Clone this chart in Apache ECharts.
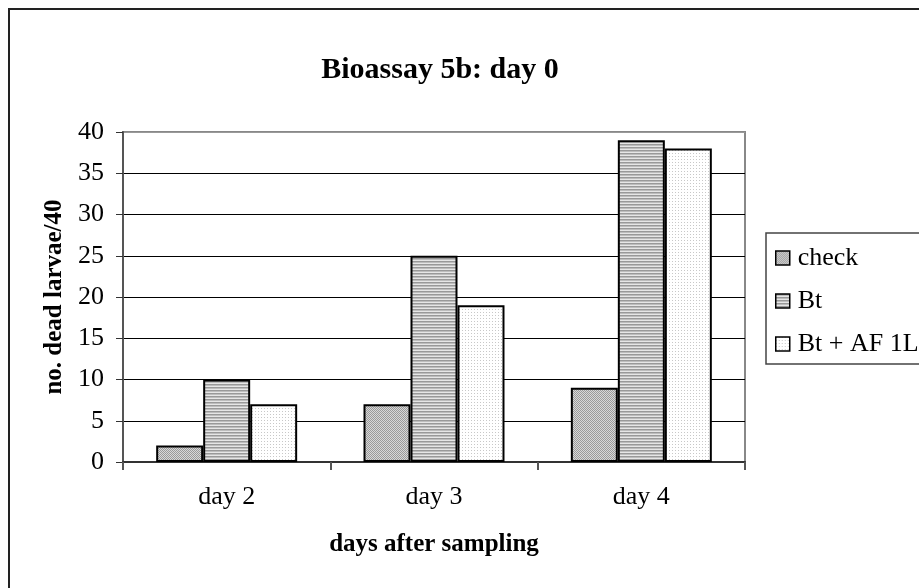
<!DOCTYPE html>
<html>
<head>
<meta charset="utf-8">
<script src="https://cdn.jsdelivr.net/npm/echarts@6/dist/echarts.min.js"></script>
<style>
  html, body { margin: 0; padding: 0; background: #fff; }
  #chart { width: 919px; height: 588px; }
</style>
</head>
<body>
<div id="chart"></div>
<script>
const categories = ['day 2', 'day 3', 'day 4']
const checkData = [2, 7, 9]
const btData = [10, 25, 39]
const btAfData = [7, 19, 38]
const seriesNames = ['check', 'Bt', 'Bt + AF 1L']

// little fill patterns like the old Excel ones
const makePattern = (w, h, draw) => {
  const c = document.createElement('canvas')
  c.width = w
  c.height = h
  const ctx = c.getContext('2d')
  draw(ctx)
  return { image: c, repeat: 'repeat' }
}

const crossFill = makePattern(2, 2, ctx => {
  ctx.fillStyle = '#d8d8d8'
  ctx.fillRect(0, 0, 2, 2)
  ctx.fillStyle = '#9a9a9a'
  ctx.fillRect(0, 0, 1, 1)
  ctx.fillRect(1, 1, 1, 1)
})

const stripeFill = makePattern(3, 3, ctx => {
  ctx.fillStyle = '#e6e6e6'
  ctx.fillRect(0, 0, 3, 3)
  ctx.fillStyle = '#999999'
  ctx.fillRect(0, 0, 3, 1)
  ctx.fillStyle = '#bdbdbd'
  ctx.fillRect(0, 1, 3, 1)
})

const dotFill = makePattern(3, 3, ctx => {
  ctx.fillStyle = '#ffffff'
  ctx.fillRect(0, 0, 3, 3)
  ctx.fillStyle = '#c8c8c8'
  ctx.fillRect(0, 0, 1, 1)
})

const font = 'Liberation Serif'
const barBorder = { borderColor: '#000', borderWidth: 2 }

const chart = echarts.init(document.getElementById('chart'))

const option = {
  animation: false,
  backgroundColor: '#fff',
  title: {
    text: 'Bioassay 5b: day 0',
    left: 435,
    textAlign: 'center',
    top: 50,
    textStyle: { fontFamily: font, fontSize: 30, fontWeight: 'bold', color: '#000' }
  },
  graphic: [{
    type: 'rect',
    shape: { x: 9, y: 9, width: 1000, height: 1000 },
    style: { fill: 'none', stroke: '#222', lineWidth: 2 },
    silent: true
  }],
  legend: {
    orient: 'vertical',
    left: 766,
    top: 233,
    padding: [12, 30, 7, 9],
    itemGap: 17,
    itemWidth: 14,
    itemHeight: 14,
    icon: 'rect',
    borderColor: '#444',
    borderWidth: 1.5,
    textStyle: { fontFamily: font, fontSize: 26, color: '#000', padding: [0, 0, 0, 3] },
    data: seriesNames.map(n => ({ name: n, itemStyle: { borderColor: '#000', borderWidth: 1.5 } }))
  },
  grid: {
    left: 123,
    right: 174,
    top: 132,
    bottom: 126,
    show: true,
    borderColor: '#888',
    borderWidth: 2
  },
  xAxis: {
    type: 'category',
    data: categories,
    name: 'days after sampling',
    nameLocation: 'middle',
    nameGap: 70,
    nameTextStyle: { fontFamily: font, fontSize: 25, fontWeight: 'bold', color: '#000' },
    axisLine: { lineStyle: { color: '#333', width: 2 } },
    axisTick: { show: true, length: 8, lineStyle: { color: '#555', width: 2 } },
    axisLabel: { fontFamily: font, fontSize: 26, color: '#000', margin: 22 }
  },
  yAxis: {
    type: 'value',
    min: 0,
    max: 40,
    interval: 5,
    name: 'no. dead larvae/40',
    nameLocation: 'middle',
    nameGap: 29,
    nameTextStyle: { fontFamily: font, fontSize: 25, fontWeight: 'bold', color: '#000' },
    axisLine: { show: true, lineStyle: { color: '#555', width: 2 } },
    axisTick: { show: true, length: 7, lineStyle: { color: '#333', width: 1 } },
    axisLabel: { fontFamily: font, fontSize: 26, color: '#000', margin: 19 },
    splitLine: {
      lineStyle: {
        color: ['#000', '#000', '#000', '#000', '#000', '#000', '#000', '#000', '#999'],
        width: 1
      }
    }
  },
  series: [
    {
      name: seriesNames[0],
      type: 'bar',
      data: checkData,
      barGap: '0%',
      barCategoryGap: '32%',
      itemStyle: { color: crossFill, ...barBorder }
    },
    {
      name: seriesNames[1],
      type: 'bar',
      data: btData,
      itemStyle: { color: stripeFill, ...barBorder }
    },
    {
      name: seriesNames[2],
      type: 'bar',
      data: btAfData,
      itemStyle: { color: dotFill, ...barBorder }
    }
  ]
}

chart.setOption(option)
</script>
</body>
</html>
